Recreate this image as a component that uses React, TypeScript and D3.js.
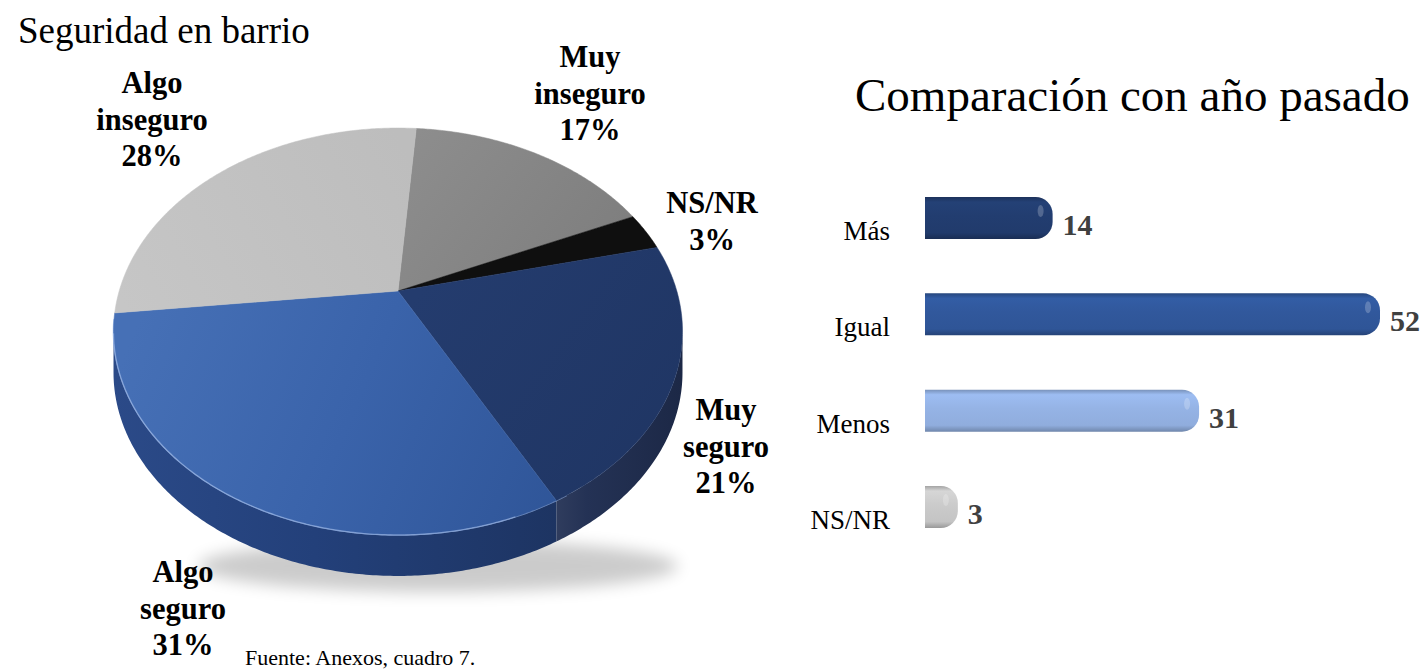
import React, { useRef, useEffect } from 'react'
import * as d3 from 'd3'

// pie: seguridad en barrio (%)
const pieNames = ['Muy inseguro', 'NS/NR', 'Muy seguro', 'Algo seguro', 'Algo inseguro']
const pieValues = [17, 3, 21, 31, 28]
const pieLines = [['Muy', 'inseguro'], ['NS/NR'], ['Muy', 'seguro'], ['Algo', 'seguro'], ['Algo', 'inseguro']]

// bars: comparación con año pasado
const barCats = ['Más', 'Igual', 'Menos', 'NS/NR']
const barValues = [14, 52, 31, 3]

const serif = '"Times New Roman", "Liberation Serif", serif'

export default function App() {
    const visEl = useRef<HTMLDivElement>(null)
    const width = 1427
    const height = 669

    useEffect(() => {
        const root = d3.select(visEl.current)
        root.selectAll('*').remove()
        const svg = root.append('svg')
            .attr('width', width)
            .attr('height', height)
            .style('position', 'absolute')
            .style('left', 0)
            .style('top', 0)
            .style('font-family', serif)

        const defs = svg.append('defs')
        const grad = (id: string, x1: number, y1: number, x2: number, y2: number, stops: [number, string][]) => {
            const g = defs.append('linearGradient').attr('id', id)
                .attr('gradientUnits', 'userSpaceOnUse')
                .attr('x1', x1).attr('y1', y1).attr('x2', x2).attr('y2', y2)
            stops.forEach(([o, c]) => g.append('stop').attr('offset', o).attr('stop-color', c))
        }
        defs.append('filter').attr('id', 'blur').attr('x', '-20%').attr('y', '-50%').attr('width', '140%').attr('height', '200%')
            .append('feGaussianBlur').attr('stdDeviation', 8)

        // ---- 3D pie ----
        const cx = 398, cy = 291, k = 278.8, m = 195.4, p = 0.199, depth = 41
        const proj = (a: number): [number, number] => {
            const X = Math.sin(a), Z = Math.cos(a), w = 1 + p * Z
            return [cx + X * k / w, cy - Z * m / w]
        }
        const arcPts = (a0: number, a1: number) => {
            const n = Math.max(2, Math.ceil((a1 - a0) / 0.01))
            return d3.range(n + 1).map(i => proj(a0 + (a1 - a0) * i / n))
        }
        const start = 4.5 * Math.PI / 180
        const arcs = d3.pie<number>().sort(null).startAngle(start).endAngle(start + 2 * Math.PI)(pieValues)

        const topFill = ['url(#gMi)', '#0f0f0f', 'url(#gMs)', 'url(#gAs)', 'url(#gAi)']
        const sideFill = ['#6a6a6a', '#111', 'url(#sMs)', 'url(#sAs)', '#9a9a9a']
        grad('gMi', 420, 130, 630, 290, [[0, '#8d8d8d'], [1, '#7c7c7c']])
        grad('gAi', 120, 300, 400, 140, [[0, '#c6c6c6'], [1, '#bdbdbd']])
        grad('gMs', 420, 290, 680, 480, [[0, '#243c6e'], [1, '#1f3563']])
        grad('gAs', 130, 340, 560, 520, [[0, '#4670b6'], [0.5, '#3a63aa'], [1, '#2f5598']])
        grad('sAs', 113, 0, 560, 0, [[0, '#2b4a88'], [0.45, '#23407a'], [1, '#1d3462']])
        grad('sMs', 555, 0, 682, 0, [[0, '#303d5e'], [0.25, '#243255'], [1, '#1c2846']])

        // soft shadow under the pie
        svg.append('ellipse')
            .attr('cx', cx + 40).attr('cy', 566).attr('rx', 240).attr('ry', 26)
            .attr('fill', '#000').attr('opacity', 0.2).attr('filter', 'url(#blur)')

        const lo = Math.acos(-p), hi = 2 * Math.PI - Math.acos(-p)
        const line = d3.line()
        arcs.forEach((d, i) => {
            const a0 = Math.max(d.startAngle, lo), a1 = Math.min(d.endAngle, hi)
            if (a1 <= a0) return
            const top = arcPts(a0, a1)
            const bottom = top.slice().reverse().map(([x, y]) => [x, y + depth] as [number, number])
            svg.append('path')
                .attr('d', line([...top, ...bottom]) + 'Z')
                .attr('fill', sideFill[i])
        })
        // rim highlight on the front edge
        svg.append('path')
            .attr('d', line(arcPts(150 * Math.PI / 180, 262 * Math.PI / 180)))
            .attr('fill', 'none').attr('stroke', '#9fbcec').attr('stroke-width', 1.6).attr('opacity', 0.7)

        arcs.forEach((d, i) => {
            svg.append('path')
                .attr('d', line([[cx, cy], ...arcPts(d.startAngle, d.endAngle)]) + 'Z')
                .attr('fill', topFill[i])
                .attr('stroke', topFill[i]).attr('stroke-width', 0.5)
        })
        svg.append('path')
            .attr('d', line(arcPts(160 * Math.PI / 180, 258 * Math.PI / 180)))
            .attr('fill', 'none').attr('stroke', '#a9c3ef').attr('stroke-width', 1.2).attr('opacity', 0.55)

        // pie labels
        const labelPos: [number, number][] = [[590, 67], [712, 213], [726, 420], [183, 582], [152, 93]]
        pieNames.forEach((name, i) => {
            const t = svg.append('text')
                .attr('x', labelPos[i][0]).attr('y', labelPos[i][1])
                .attr('text-anchor', 'middle')
                .attr('font-size', 30.5).attr('font-weight', 'bold').attr('fill', '#000')
            const lines = [...pieLines[i], `${pieValues[i]}%`]
            lines.forEach((l, j) => t.append('tspan').attr('x', labelPos[i][0]).attr('dy', j === 0 ? 0 : 36.5).text(l))
        })

        svg.append('text').attr('x', 18).attr('y', 43).attr('font-size', 37).text('Seguridad en barrio')
        svg.append('text').attr('x', 245).attr('y', 665).attr('font-size', 22).text('Fuente: Anexos, cuadro 7.')

        // ---- bar chart ----
        svg.append('text').attr('x', 855).attr('y', 111).attr('font-size', 47).text('Comparación con año pasado')

        const xScale = d3.scaleLinear().domain([0, 52]).range([932, 1380])
        const yScale = d3.scalePoint<string>().domain(barCats).range([218, 507])
        const barH = 42
        const barStart = xScale(0) - 7
        const barBase = ['#213b6c', '#2f5597', '#90addd', '#c4c4c4']
        barBase.forEach((c, i) => {
            const c0 = d3.color(c)!
            const g = defs.append('linearGradient').attr('id', `bar${i}`).attr('x1', 0).attr('y1', 0).attr('x2', 0).attr('y2', 1)
            g.append('stop').attr('offset', 0).attr('stop-color', c0.darker(0.5).formatHex())
            g.append('stop').attr('offset', 0.12).attr('stop-color', c0.brighter(0.25).formatHex())
            g.append('stop').attr('offset', 0.45).attr('stop-color', c0.brighter(0.1).formatHex())
            g.append('stop').attr('offset', 0.85).attr('stop-color', c0.formatHex())
            g.append('stop').attr('offset', 1).attr('stop-color', c0.darker(0.7).formatHex())
        })
        const barPath = (x0: number, x1: number, y: number, h: number) => {
            const r = Math.min(17, (x1 - x0) * 0.6)
            return `M${x0},${y}H${x1 - r}A${r},${r} 0 0 1 ${x1},${y + r}V${y + h - r}A${r},${r} 0 0 1 ${x1 - r},${y + h}H${x0}Z`
        }
        barCats.forEach((cat, i) => {
            const yc = yScale(cat)!
            const x1 = xScale(barValues[i])
            svg.append('path')
                .attr('d', barPath(barStart, x1, yc - barH / 2, barH))
                .attr('fill', `url(#bar${i})`)
            // small specular spot near the rounded end
            svg.append('ellipse')
                .attr('cx', x1 - 12).attr('cy', yc - 7).attr('rx', 3).attr('ry', 6)
                .attr('fill', '#fff').attr('opacity', 0.22)
            svg.append('text')
                .attr('x', 890).attr('y', yc + 22)
                .attr('text-anchor', 'end').attr('font-size', 27).attr('fill', '#000')
                .text(cat)
            svg.append('text')
                .attr('x', x1 + 10).attr('y', yc + 17)
                .attr('font-size', 30).attr('font-weight', 'bold').attr('fill', '#404040')
                .text(barValues[i])
        })
    }, [])

    return (
        <div>
            <div ref={visEl}></div>
        </div>
    )
}
